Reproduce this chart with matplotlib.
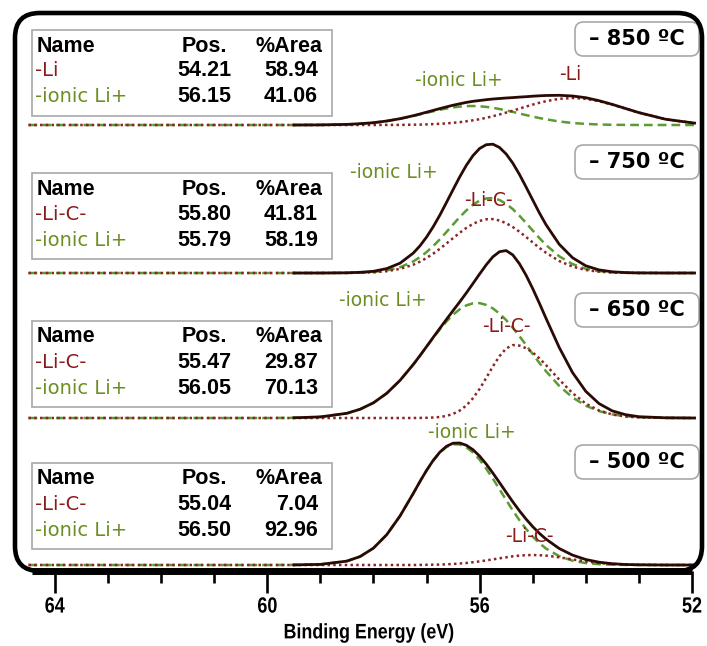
import matplotlib.pyplot as plt
from matplotlib.patches import FancyBboxPatch, Rectangle, PathPatch
from matplotlib.lines import Line2D
from matplotlib.textpath import TextPath
from matplotlib.font_manager import FontProperties
import matplotlib.transforms as mtransforms
import numpy as np

energy = [64.5, 60.0, 59.5, 59.0, 58.5, 58.25, 58.0, 57.75, 57.5, 57.25,
          57.125, 57.0, 56.875, 56.75, 56.625, 56.5, 56.375, 56.25, 56.125, 56.0,
          55.875, 55.75, 55.625, 55.5, 55.375, 55.25, 55.125, 55.0, 54.875, 54.75,
          54.5, 54.25, 54.0, 53.75, 53.5, 53.25, 53.0, 52.5, 52.0, 51.95]

# component intensities above each baseline (arb. units)
ion_850 = [0, 0, 0, 0.1, 0.6, 1.3, 2.3, 3.9, 6.2, 9.0,
           10.6, 12.2, 13.7, 15.2, 16.5, 17.6, 18.4, 18.9, 19.0, 18.7,
           18.1, 17.2, 16.0, 14.6, 13.1, 11.5, 9.9, 8.4, 7.0, 5.7,
           3.5, 2.0, 1.1, 0.5, 0.2, 0.1, 0, 0, 0, 0]
li_850 = [0, 0, 0, 0, 0, 0, 0, 0.1, 0.1, 0.3,
          0.4, 0.6, 0.9, 1.2, 1.6, 2.2, 2.8, 3.7, 4.7, 5.8,
          7.2, 8.8, 10.5, 12.4, 14.3, 16.4, 18.4, 20.4, 22.2, 23.8,
          26.2, 27.0, 26.2, 23.8, 20.4, 16.4, 12.4, 5.8, 2.2, 1.9]

ion_750 = [0, 0, 0, 0, 0.1, 0.4, 1.0, 2.6, 5.7, 11.6,
           15.8, 20.9, 26.9, 33.6, 41.0, 48.5, 55.9, 62.6, 68.3, 72.4,
           74.6, 74.9, 73.0, 69.2, 63.9, 57.3, 50.0, 42.5, 35.0, 28.1,
           16.7, 8.9, 4.2, 1.8, 0.7, 0.2, 0.1, 0, 0, 0]
lic_750 = [0, 0, 0, 0, 0.1, 0.3, 0.7, 1.8, 4.1, 8.3,
           11.3, 15.0, 19.3, 24.2, 29.5, 34.9, 40.2, 45.1, 49.1, 52.1,
           53.7, 53.9, 52.5, 49.8, 46.0, 41.3, 36.0, 30.6, 25.2, 20.3,
           12.0, 6.4, 3.0, 1.3, 0.5, 0.2, 0, 0, 0, 0]

ion_650 = [0, 0, 0.2, 1.1, 4.7, 8.8, 15.2, 24.7, 37.6, 53.5,
           62.2, 71.2, 80.1, 88.6, 96.5, 103.3, 108.7, 112.6, 114.7, 114.9,
           113.1, 109.6, 104.4, 97.9, 90.2, 81.9, 73.0, 63.9, 55.2, 46.8,
           32.1, 20.6, 12.3, 6.9, 3.6, 1.8, 0.8, 0.1, 0, 0]
lic_650 = [0, 0, 0, 0, 0, 0, 0, 0, 0, 0,
           0.1, 0.2, 0.5, 1.0, 2.1, 4.1, 7.4, 12.5, 19.8, 29.1,
           40.1, 51.6, 61.9, 69.5, 72.9, 72.4, 69.8, 65.5, 59.7, 53.0,
           38.4, 24.9, 14.4, 7.5, 3.5, 1.5, 0.5, 0.1, 0, 0]

ion_500 = [0, 0, 0.1, 0.6, 3.9, 8.5, 16.9, 30.3, 49.0, 71.6,
           83.3, 94.4, 104.3, 112.4, 118.0, 120.8, 120.5, 117.7, 112.5, 105.3,
           96.3, 86.3, 75.7, 65.0, 54.5, 44.8, 36.1, 28.4, 21.9, 16.5,
           8.8, 4.3, 1.9, 0.8, 0.3, 0.1, 0, 0, 0, 0]
lic_500 = [0, 0, 0, 0, 0, 0, 0, 0, 0, 0,
           0.1, 0.2, 0.3, 0.4, 0.7, 1.0, 1.5, 2.0, 2.8, 3.6,
           4.6, 5.6, 6.7, 7.7, 8.7, 9.4, 9.8, 10.0, 9.8, 9.4,
           7.7, 5.6, 3.6, 2.0, 1.0, 0.4, 0.2, 0, 0, 0]

# fit tables
temps = ["850", "750", "650", "500"]
red_names = ["-Li", "-Li-C-", "-Li-C-", "-Li-C-"]
red_pos = ["54.21", "55.80", "55.47", "55.04"]
red_area = ["58.94", "41.81", "29.87", "7.04"]
ion_pos = ["56.15", "55.79", "56.05", "56.50"]
ion_area = ["41.06", "58.19", "70.13", "92.96"]

xticks = [64, 60, 56, 52]

# ---------------- layout (pixels) ----------------
W, H = 707, 646
def fx(x): return x / W
def fy(y): return 1 - y / H

GREEN = "#5a9b32"
GREEN_T = "#6b8e23"
RED = "#8b2525"
RED_T = "#8b1a1a"
DARK = "#2a0a04"
ARIAL = ["Liberation Sans", "DejaVu Sans"]

fig = plt.figure(figsize=(W / 100, H / 100), dpi=100)
ax = fig.add_axes([fx(15), fy(571), (702 - 15) / W, (571 - 13) / H])
ax.set_xlim(64.754, 51.81)
ax.set_ylim(0, 558)

to_fig = mtransforms.Affine2D().scale(1 / W, 1 / H) + fig.transFigure

def narrow_text(xp, yp, s, size, sx=0.82):
    # condensed bold text (like Arial Narrow) centred on pixel (xp, yp from top)
    tp = TextPath((0, 0), s, size=size, prop=FontProperties(family="Liberation Sans", weight="bold"))
    bb = tp.get_extents()
    tr = (mtransforms.Affine2D().translate(-(bb.x0 + bb.x1) / 2, -(bb.y0 + bb.y1) / 2)
          .scale(sx, 1).translate(xp, H - yp))
    fig.add_artist(PathPatch(tp, transform=tr + to_fig, fc="black", lw=0))

baselines = [446, 298, 153, 6]
comps = [(ion_850, li_850), (ion_750, lic_750), (ion_650, lic_650), (ion_500, lic_500)]
E = np.array(energy)
for (ion, red), base in zip(comps, baselines):
    ion = np.array(ion)
    red = np.array(red)
    ax.plot(E, base + ion, color=GREEN, lw=1.8, dashes=(3.5, 2), zorder=2)
    ax.plot(E, base + red, color=RED, lw=1.8, dashes=(1, 1.3), zorder=3)
    tot = ion + red
    ax.plot(E[2:], base + tot[2:], color=DARK, lw=2.0, zorder=4)

for s in ax.spines.values():
    s.set_visible(False)
ax.set_yticks([])
ax.set_xticks(xticks)
ax.set_xticks(range(52, 65), minor=True)
ax.tick_params(axis="x", which="major", length=16, width=1.9, direction="out", labelbottom=False)
ax.tick_params(axis="x", which="minor", length=8.5, width=1.9, direction="out")

# tick labels and axis title in a narrow face
for t in xticks:
    xd = ax.transData.transform((t, 0))[0]
    narrow_text(xd, 605, str(t), 22)
narrow_text(369, 633, "Binding Energy (eV)", 21, sx=0.85)

# rounded frame + thick bottom bar
frame = FancyBboxPatch((fx(15), fy(571)), (702 - 15) / W, (571 - 13) / H,
                       boxstyle="round,pad=0,rounding_size=0.035", mutation_aspect=W / H,
                       transform=fig.transFigure, fill=False, lw=3.3, ec="black", zorder=10)
fig.add_artist(frame)
fig.add_artist(Line2D([fx(32), fx(692)], [fy(571), fy(571)], lw=5, color="black",
                      transform=fig.transFigure, solid_capstyle="butt"))

# tables
box_tops = [30, 173, 321, 463]
for i, top in enumerate(box_tops):
    fig.add_artist(Rectangle((fx(32), fy(top + 86)), (332 - 32) / W, 86 / H, transform=fig.transFigure,
                             fc="white", ec="#a8a8a8", lw=1.2, zorder=5))
    rows = [top + 16, top + 41, top + 67]
    fig.text(fx(37), fy(rows[0]), "Name", ha="left", va="center", fontfamily=ARIAL,
             fontweight="bold", fontsize=15.5, zorder=6)
    fig.text(fx(204), fy(rows[0]), "Pos.", ha="center", va="center", fontfamily=ARIAL,
             fontweight="bold", fontsize=15.5, zorder=6)
    fig.text(fx(289), fy(rows[0]), "%Area", ha="center", va="center", fontfamily=ARIAL,
             fontweight="bold", fontsize=15.5, zorder=6)
    fig.text(fx(35), fy(rows[1]), red_names[i], ha="left", va="center", color=RED_T,
             fontsize=14, zorder=6)
    fig.text(fx(35), fy(rows[2]), "-ionic Li+", ha="left", va="center", color=GREEN_T,
             fontsize=14, zorder=6)
    for r, p, a in [(rows[1], red_pos[i], red_area[i]), (rows[2], ion_pos[i], ion_area[i])]:
        fig.text(fx(231), fy(r), p, ha="right", va="center", fontfamily=ARIAL,
                 fontweight="bold", fontsize=15.5, zorder=6)
        fig.text(fx(318), fy(r), a, ha="right", va="center", fontfamily=ARIAL,
                 fontweight="bold", fontsize=15.5, zorder=6)

# temperature tags
temp_y = [39, 162, 310, 462]
for t, y in zip(temps, temp_y):
    tag = FancyBboxPatch((fx(575), fy(y + 17)), (699 - 575) / W, 34 / H,
                         boxstyle="round,pad=0,rounding_size=0.012", mutation_aspect=W / H,
                         transform=fig.transFigure, fc="white", ec="#a8a8a8", lw=1.2, zorder=6)
    fig.add_artist(tag)
    fig.text(fx(637), fy(y), "\u2013 " + t + " \u00baC", ha="center", va="center",
             fontweight="bold", fontsize=15, zorder=7)

# peak labels
ion_lab = [(459, 80), (394, 173), (383, 300), (472, 432)]
red_lab = [(570, 75), (488, 200), (506, 327), (529, 537)]
for i in range(4):
    fig.text(fx(ion_lab[i][0]), fy(ion_lab[i][1]), "-ionic Li+", ha="center", va="center",
             color=GREEN_T, fontsize=13.5, zorder=7)
    fig.text(fx(red_lab[i][0]), fy(red_lab[i][1]), red_names[i], ha="center", va="center",
             color=RED_T, fontsize=13.5, zorder=7)

fig.savefig("out.png", dpi=100)
